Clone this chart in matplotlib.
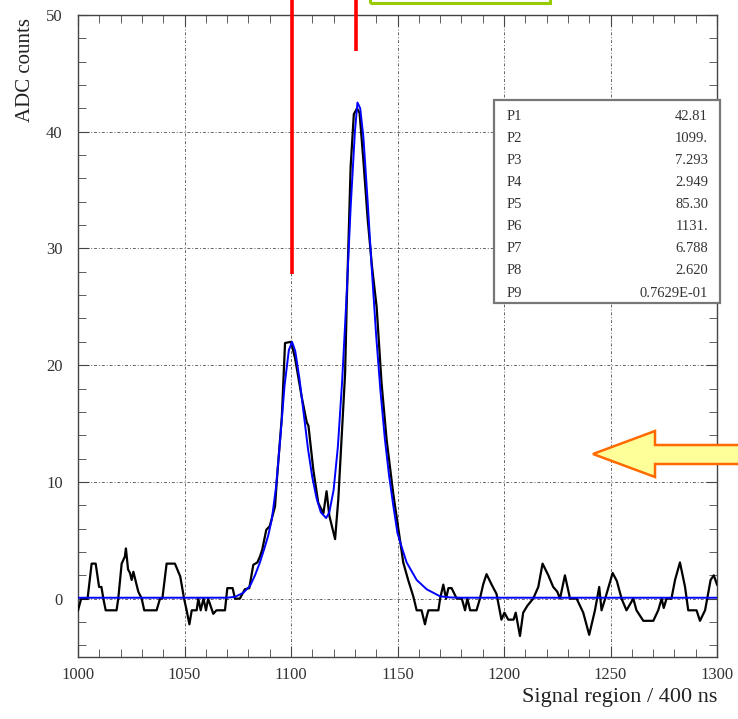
import matplotlib
matplotlib.use("Agg")
import matplotlib.pyplot as plt
from matplotlib.patches import Rectangle, Polygon
from matplotlib.ticker import MultipleLocator

plt.rcParams["font.family"] = ["Liberation Serif", "DejaVu Serif"]

# measured ADC trace (sample index, counts)
trace_x = [1000.0, 1001.5, 1004.5, 1006.4, 1008.3, 1009.9, 1011.0, 1011.9, 1013.0, 1018.1,
           1018.9, 1020.5, 1022.0, 1022.5, 1023.5, 1024.4, 1025.2, 1026.0, 1028.3, 1029.9,
           1031.1, 1036.9, 1038.5, 1039.6, 1041.6, 1045.5, 1048.0, 1049.8, 1051.0, 1052.3,
           1053.4, 1055.7, 1056.5, 1057.6, 1058.9, 1060.1, 1061.1, 1063.5, 1065.0, 1069.0,
           1070.1, 1072.6, 1073.7, 1076.0, 1078.3, 1080.4, 1082.3, 1084.2, 1085.4, 1086.5,
           1088.4, 1090.0, 1092.5, 1093.3, 1095.7, 1097.2, 1100.0, 1101.9, 1105.0, 1107.4,
           1108.2, 1110.5, 1112.8, 1115.2, 1116.7, 1118.0, 1120.7, 1122.2, 1124.0, 1125.4,
           1126.2, 1128.0, 1129.5, 1131.0, 1132.2, 1134.0, 1136.0, 1138.0, 1140.2, 1142.5,
           1144.9, 1148.0, 1150.0, 1152.7, 1155.0, 1157.4, 1159.0, 1161.3, 1162.9, 1163.6,
           1164.5, 1169.2, 1170.0, 1171.5, 1172.8, 1173.9, 1175.4, 1177.8, 1180.2, 1181.7,
           1182.8, 1184.1, 1187.1, 1188.7, 1190.2, 1191.8, 1194.2, 1196.5, 1198.8, 1200.2,
           1202.0, 1204.5, 1205.5, 1207.5, 1209.0, 1211.0, 1213.7, 1216.1, 1218.1, 1220.8,
           1223.1, 1225.0, 1226.3, 1228.6, 1231.0, 1234.1, 1237.2, 1240.0, 1242.7, 1244.7,
           1245.8, 1247.5, 1251.0, 1253.0, 1255.2, 1257.5, 1260.7, 1262.2, 1265.4, 1270.1,
           1272.4, 1274.0, 1275.0, 1276.3, 1278.6, 1280.3, 1282.6, 1285.0, 1286.5, 1290.4,
           1292.0, 1294.4, 1297.0, 1298.5, 1300.0]
trace_y = [-1.0, 0.0, 0.0, 3.0, 3.0, 1.0, 1.0, 0.0, -1.0, -1.0,
           0.0, 3.0, 3.6, 4.3, 2.5, 2.2, 1.6, 2.3, 0.6, 0.0,
           -1.0, -1.0, 0.0, 0.0, 3.0, 3.0, 1.9, 0.0, -1.0, -2.2,
           -1.0, -1.0, 0.0, -1.0, 0.0, -1.0, 0.0, -1.3, -1.0, -1.0,
           0.9, 0.9, 0.0, 0.0, 0.8, 0.9, 2.9, 3.1, 3.6, 4.2,
           5.9, 6.2, 7.9, 10.0, 15.6, 21.9, 22.0, 20.6, 17.3, 15.1,
           14.8, 11.0, 8.2, 7.3, 9.2, 7.1, 5.1, 8.5, 14.5, 19.3,
           25.6, 37.0, 41.5, 42.0, 41.6, 37.5, 32.5, 28.5, 25.0, 18.5,
           13.6, 9.0, 6.5, 3.1, 1.6, 0.2, -1.0, -1.0, -2.2, -1.6,
           -1.0, -1.0, 0.0, 1.2, 0.0, 0.9, 0.9, 0.0, 0.0, -1.0,
           0.0, -1.0, -1.0, 0.0, 1.2, 2.1, 1.2, 0.4, -1.8, -1.2,
           -1.8, -1.8, -1.2, -3.2, -1.2, -0.6, 0.0, 1.0, 3.0, 2.0,
           1.0, 0.6, 0.0, 2.0, 0.0, 0.0, -1.2, -3.1, -1.0, 1.0,
           -1.0, 0.0, 2.2, 1.5, 0.0, -1.0, 0.0, -1.0, -1.9, -1.9,
           -1.0, 0.0, -0.8, 0.0, 0.0, 1.6, 3.1, 1.0, -1.0, -1.0,
           -1.9, -1.0, 1.6, 2.0, 1.2]

# fitted double-peak curve
fit_x = [1000, 1070, 1073.7, 1077.6, 1080.8, 1083.1, 1085.4, 1087.5, 1089.3, 1091,
         1093, 1095, 1097, 1099, 1100.5, 1102, 1104, 1106, 1108, 1110,
         1112, 1114, 1116.5, 1118, 1120, 1122, 1124, 1126, 1128, 1130,
         1131.2, 1132.5, 1134, 1136, 1138, 1140, 1142, 1144, 1146, 1148,
         1150, 1152, 1154.3, 1159, 1163.7, 1170, 1175, 1180, 1300]
fit_y = [0.076, 0.08, 0.15, 0.5, 1.1, 2.0, 3.1, 4.3, 5.4, 6.8,
         9.6, 13.8, 18.3, 21.3, 22.0, 21.2, 18.8, 15.8, 12.8, 10.4,
         8.6, 7.4, 6.9, 7.4, 9.3, 13.0, 18.6, 25.6, 33.5, 40.0,
         42.5, 42.0, 39.5, 34.0, 28.0, 22.5, 17.8, 13.8, 10.6, 8.0,
         5.6, 4.4, 3.1, 1.6, 0.8, 0.2, 0.1, 0.08, 0.076]

# fit parameters shown in the stats box
par_names = ["P1", "P2", "P3", "P4", "P5", "P6", "P7", "P8", "P9"]
par_values = ["42.81", "1099.", "7.293", "2.949", "85.30", "1131.", "6.788", "2.620", "0.7629E-01"]

# peak markers
marker_x = [1100.6, 1130.6]
marker_low = [27.8, 46.9]

W, H = 738, 719
fig = plt.figure(figsize=(W / 100, H / 100), dpi=100)
ax = fig.add_axes([78 / W, 1 - 657 / H, 639 / W, 642 / H])

ax.plot(trace_x, trace_y, color="black", lw=1.6, zorder=3)
ax.plot(fit_x, fit_y, color="#0000ff", lw=1.4, zorder=4)

ax.set_xlim(1000, 1300)
ax.set_ylim(-5, 50)
ax.xaxis.set_major_locator(MultipleLocator(50))
ax.xaxis.set_minor_locator(MultipleLocator(10))
ax.yaxis.set_major_locator(MultipleLocator(10))
ax.yaxis.set_minor_locator(MultipleLocator(2))
ax.tick_params(which="both", direction="in", top=True, right=True,
               labelsize=12, labelcolor="#333333", color="#444444")
ax.tick_params(axis="x", which="major", length=8, pad=7)
ax.tick_params(axis="y", which="major", length=8, pad=11)
ax.tick_params(which="minor", length=5.5)
ax.grid(True, which="major", color="#666666", lw=0.7, linestyle=(0, (3, 2, 1, 2)))
for sp in ax.spines.values():
    sp.set_color("#444444")
    sp.set_linewidth(1.0)

ax.set_xlabel("Signal region / 400 ns", fontsize=16, color="#222222", loc="right")
ax.xaxis.set_label_coords(1.0, -0.048)
ax.set_ylabel("ADC counts", fontsize=15, color="#222222", loc="top")
ax.yaxis.set_label_coords(-0.068, 0.995)

# red peak markers running up past the frame
for mx, low in zip(marker_x, marker_low):
    ax.plot([mx, mx], [low, 53], color="#ff0000", lw=2.6, clip_on=False, zorder=6,
            solid_capstyle="butt")

# stats box
box = Rectangle((494 / W, 1 - 303 / H), 226 / W, 203 / H, transform=fig.transFigure,
                facecolor="white", edgecolor="#777777", lw=1.6, zorder=10)
fig.patches.append(box)
for i, (name, val) in enumerate(zip(par_names, par_values)):
    yy = 1 - (117 + 22 * i) / H
    fig.text(507 / W, yy, name, fontsize=10.5, color="#333333", va="center", ha="left", zorder=11)
    fig.text(708 / W, yy, val, fontsize=10.5, color="#333333", va="center", ha="right", zorder=11)

# green frame above the plot
green = Rectangle((370 / W, 1 - 3 / H), 180 / W, 0.05, transform=fig.transFigure,
                  facecolor="none", edgecolor="#99cc00", lw=2.2, zorder=10)
fig.patches.append(green)

# yellow arrow on the right
arrow_px = [(593, 454), (655, 431), (655, 445), (745, 445), (745, 464), (655, 464), (655, 477)]
arrow = Polygon([(x / W, 1 - y / H) for x, y in arrow_px], closed=True,
                transform=fig.transFigure, facecolor="#ffff99", edgecolor="#ff6a00",
                lw=1.8, zorder=10)
fig.patches.append(arrow)

fig.savefig("out.png", dpi=100)
